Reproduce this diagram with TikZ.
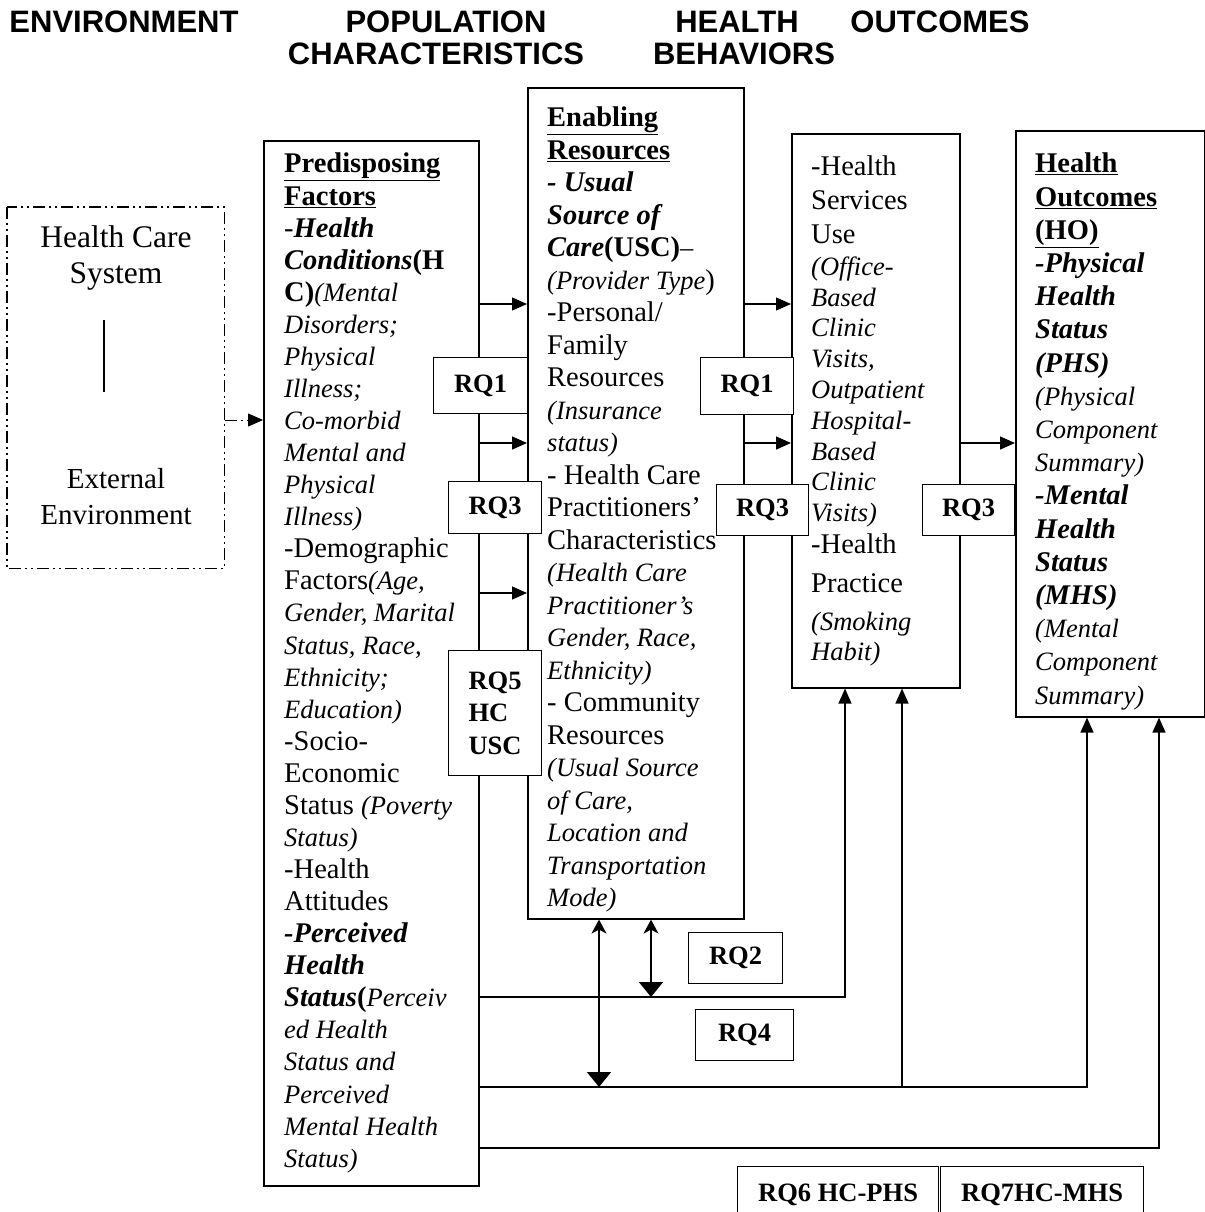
\documentclass[tikz,border=0pt]{standalone}
\usepackage{fontspec}
\setmainfont{Liberation Serif}
\newfontfamily\hdrfont{Liberation Sans}
\usetikzlibrary{arrows.meta}

% smaller italic used for the details in brackets
\newcommand\sm[1]{{\fontsize{26.5}{32.5}\selectfont\itshape #1}}

\begin{document}
\begin{tikzpicture}[x=1pt, y=-1pt, >={Triangle[length=15pt,width=13pt]},
  hdr/.style={font=\fontsize{31}{31}\selectfont\hdrfont\bfseries, inner sep=0pt},
  box/.style={draw, line width=1.6pt, inner sep=0pt, anchor=north west},
  txt/.style={anchor=north west, inner sep=0pt, align=left, font=\fontsize{28.5}{32.5}\selectfont},
  rq/.style={box, fill=white, line width=1.2pt, font=\fontsize{26.5}{32.5}\selectfont\bfseries},
  line/.style={line width=1.4pt},
  uptip/.style={{Stealth[length=14pt,width=15pt,inset=4pt]}-{Triangle[length=15pt,width=24pt]}},
  dashdot/.style={dash pattern=on 12pt off 4pt on 2pt off 4pt on 2pt off 4pt}]
  \useasboundingbox (0,0) rectangle (1204,1212);

  % Column headings
  \node[hdr] (h1) at (124,22) {ENVIRONMENT};
  \node[hdr] (h2) at (446,22) {POPULATION};
  \node[hdr] (h3) at (436,54) {CHARACTERISTICS};
  \node[hdr] (h4) at (737,22) {HEALTH};
  \node[hdr] (h5) at (744,54) {BEHAVIORS};
  \node[hdr] (h6) at (940,22) {OUTCOMES};

  % Environment
  \node[box, draw=none, minimum width=216pt, minimum height=360pt] (env) at (7,207) {};
  \draw[line width=1.2pt, dashdot] (env.north west) rectangle (env.south east);
  \node[font=\fontsize{31.5}{36}\selectfont, align=center] (hcs) at (116,258) {Health Care\\System};
  \node[font=\fontsize{29}{36}\selectfont, align=center] (ext) at (116,497) {External\\Environment};
  \draw[line width=1.5pt] (104,320) -- (104,392);

  % Population characteristics
  \node[box, minimum width=215pt, minimum height=1045pt] (pre) at (263,140) {};
  \node[txt, font=\fontsize{28.5}{32.07}\selectfont] (pretxt) at (284,153) {\underline{\textbf{Predisposing}}\\
    \underline{\textbf{Factors}}\\
    \textit{-\textbf{Health}}\\
    \textbf{\textit{Conditions}(H}\\
    \textbf{C)}\sm{(Mental}\\
    \sm{Disorders;}\\
    \sm{Physical}\\
    \sm{Illness;}\\
    \sm{Co-morbid}\\
    \sm{Mental and}\\
    \sm{Physical}\\
    \sm{Illness)}\\
    -Demographic\\
    Factors\sm{(Age,}\\
    \sm{Gender, Marital}\\
    \sm{Status, Race,}\\
    \sm{Ethnicity;}\\
    \sm{Education)}\\
    -Socio-\\
    Economic\\
    Status \sm{(Poverty}\\
    \sm{Status)}\\
    -Health\\
    Attitudes\\
    \textbf{\textit{-Perceived}}\\
    \textbf{\textit{Health}}\\
    \textbf{\textit{Status}(}\sm{Perceiv}\\
    \sm{ed Health}\\
    \sm{Status and}\\
    \sm{Perceived}\\
    \sm{Mental Health}\\
    \sm{Status)}};

  \node[box, minimum width=216pt, minimum height=831pt] (enab) at (527,87) {};
  \node[txt] (enabtxt) at (547,107) {\underline{\textbf{Enabling}}\\
    \underline{\textbf{Resources}}\\
    \textbf{\textit{- Usual}}\\
    \textbf{\textit{Source of}}\\
    \textbf{\textit{Care}(USC)}\sm{–}\\
    \sm{(Provider Type})\\
    -Personal/\\
    Family\\
    Resources\\
    \sm{(Insurance}\\
    \sm{status)}\\
    - Health Care\\
    Practitioners’\\
    Characteristics\\
    \sm{(Health Care}\\
    \sm{Practitioner’s}\\
    \sm{Gender, Race,}\\
    \sm{Ethnicity)}\\
    - Community\\
    Resources\\
    \sm{(Usual Source}\\
    \sm{of Care,}\\
    \sm{Location and}\\
    \sm{Transportation}\\
    \sm{Mode)}};

  % Health behaviors
  \node[box, minimum width=168pt, minimum height=554pt] (beh) at (791,133) {};
  \node[txt, font=\fontsize{28.5}{30.8}\selectfont] (behtxt) at (811,156) {-Health\\[3pt]
    Services\\[3pt]
    Use\\[1pt]
    \sm{(Office-}\\
    \sm{Based}\\
    \sm{Clinic}\\
    \sm{Visits,}\\
    \sm{Outpatient}\\
    \sm{Hospital-}\\
    \sm{Based}\\
    \sm{Clinic}\\
    \sm{Visits)}\\[1pt]
    -Health\\[8pt]
    Practice\\[7pt]
    \sm{(Smoking}\\
    \sm{Habit)}};

  % Outcomes
  \node[box, minimum width=189pt, minimum height=586pt] (out) at (1015,130) {};
  \node[txt, font=\fontsize{28.5}{33.2}\selectfont] (outtxt) at (1035,153) {\underline{\textbf{Health}}\\
    \underline{\textbf{Outcomes}}\\
    \underline{\textbf{(HO)}}\\
    \textbf{\textit{-Physical}}\\
    \textbf{\textit{Health}}\\
    \textbf{\textit{Status}}\\
    \textbf{\textit{(PHS)}}\\
    \sm{(Physical}\\
    \sm{Component}\\
    \sm{Summary)}\\
    \textbf{\textit{-Mental}}\\
    \textbf{\textit{Health}}\\
    \textbf{\textit{Status}}\\
    \textbf{\textit{(MHS)}}\\
    \sm{(Mental}\\
    \sm{Component}\\
    \sm{Summary)}};

  % Arrows between columns
  \draw[line width=0.8pt, dashdot, ->] (env.east |- 0,420) -- (pre.west |- 0,420);
  \draw[line, ->] (pre.east |- 0,304) -- (enab.west |- 0,304);
  \draw[line, ->] (pre.east |- 0,443) -- (enab.west |- 0,443);
  \draw[line, ->] (pre.east |- 0,593) -- (enab.west |- 0,593);
  \draw[line, ->] (enab.east |- 0,304) -- (beh.west |- 0,304);
  \draw[line, ->] (enab.east |- 0,443) -- (beh.west |- 0,443);
  \draw[line, ->] (beh.east |- 0,443) -- (out.west |- 0,443);

  % Lines below the boxes
  \draw[line, ->] (pre.east |- 0,997) -| (beh.south -| 845,0);
  \draw[line, ->] (pre.east |- 0,1087) -| (out.south -| 1087,0);
  \draw[line, ->] (902,1087) -- (beh.south -| 902,0);
  \draw[line, ->] (pre.east |- 0,1148) -| (out.south -| 1159,0);
  \draw[line, uptip] (enab.south -| 599,0) -- (599,1087);
  \draw[line, uptip] (enab.south -| 651,0) -- (651,997);

  % Research questions
  \node[rq, minimum width=94pt, minimum height=56pt] (rq1a) at (433,357) {RQ1};
  \node[rq, minimum width=93pt, minimum height=52pt] (rq3a) at (448,481) {RQ3};
  \node[rq, minimum width=93pt, minimum height=125pt, align=left] (rq5) at (448,650) {RQ5\\HC\\USC};
  \node[rq, minimum width=93pt, minimum height=57pt] (rq1b) at (700,357) {RQ1};
  \node[rq, minimum width=92pt, minimum height=51pt] (rq3b) at (716,484) {RQ3};
  \node[rq, minimum width=92pt, minimum height=51pt] (rq3c) at (922,484) {RQ3};
  \node[rq, minimum width=94pt, minimum height=51pt] (rq2) at (688,932) {RQ2};
  \node[rq, minimum width=98pt, minimum height=51pt] (rq4) at (695,1009) {RQ4};
  \node[rq, minimum width=201pt, minimum height=56pt] (rq6) at (737,1166) {RQ6 HC-PHS};
  \node[rq, minimum width=203pt, minimum height=56pt] (rq7) at (940,1166) {RQ7HC-MHS};
\end{tikzpicture}
\end{document}
